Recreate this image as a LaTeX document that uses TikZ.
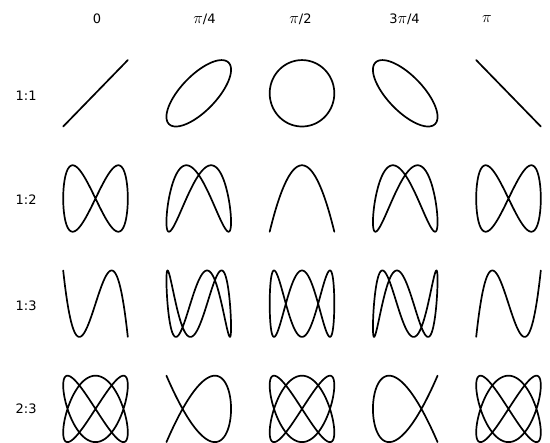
\documentclass[tikz,border=0pt]{standalone}
\usepackage{graphicx}
\usepackage{fontspec}
\setmainfont{DejaVu Sans}
\newcommand{\mypi}{\scalebox{1.35}{$\pi$}}
\begin{document}
\begin{tikzpicture}[x=1pt,y=-1pt,
  curve/.style={line width=1.7pt,line join=round,line cap=round,black},
  lbl/.style={font=\fontsize{13}{15}\selectfont,inner sep=0pt}]
\useasboundingbox (0,0) rectangle (550,443);
% column headers
\node[lbl] (h0) at (97,19) {0};
\node[lbl] (h1) at (204.5,19) {\mypi/4};
\node[lbl] (h2) at (300.5,19) {\mypi/2};
\node[lbl] (h3) at (404.5,19) {3\mypi/4};
\node[lbl] (h4) at (487,19) {\mypi};
% row labels
\node[lbl,anchor=west] (r0) at (15.5,96) {1:1};
\node[lbl,anchor=west] (r1) at (15.5,199.5) {1:2};
\node[lbl,anchor=west] (r2) at (15.5,305.5) {1:3};
\node[lbl,anchor=west] (r3) at (15.5,408.5) {2:3};
% Lissajous figures: x = sin(a t), y = sin(b t + phi)
\foreach \a/\b/\r in {1/1/0,1/2/1,1/3/2,2/3/3}{
  \foreach \p [count=\c from 0] in {0,45,90,135,180}{
    \pgfmathsetmacro{\cx}{95.5+103.25*\c}
    \pgfmathsetmacro{\cy}{93.3+105.2*\r}
    \draw[curve] plot[domain=0:360,samples=361,variable=\t]
      ({\cx+32.3*sin(\a*\t)},{\cy-33.2*sin(\b*\t+\p)});
  }
}
\end{tikzpicture}
\end{document}
